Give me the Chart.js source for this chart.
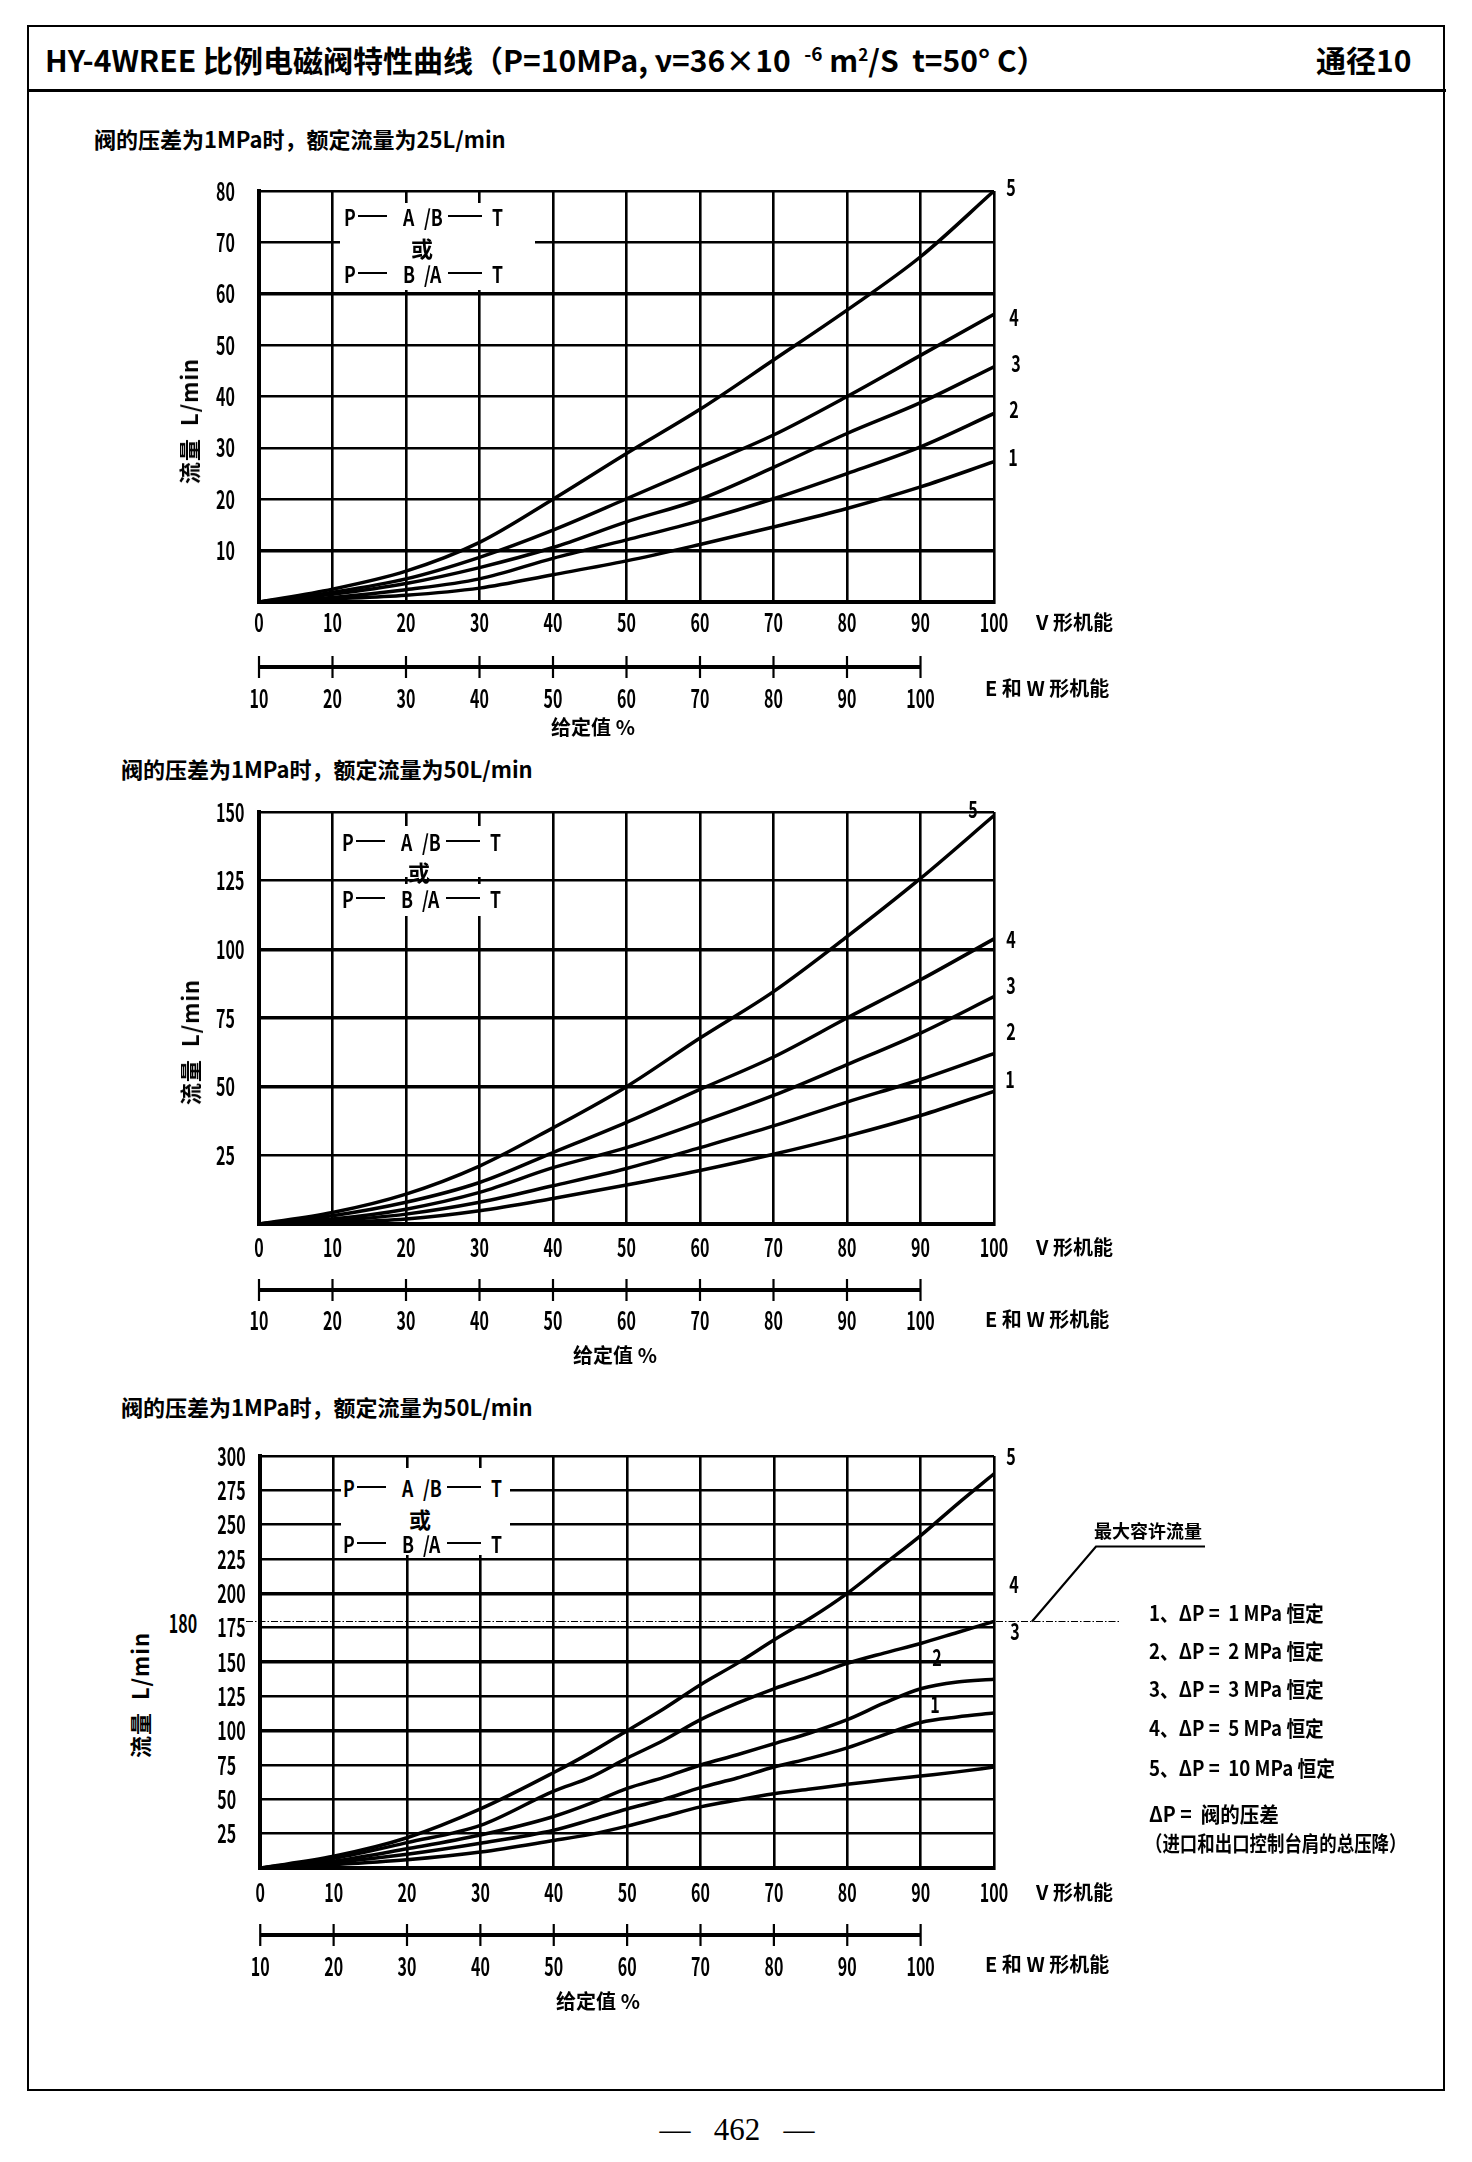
<!DOCTYPE html>
<html lang="zh-CN">
<head>
<meta charset="utf-8">
<title>HY-4WREE 比例电磁阀特性曲线</title>
<script src="https://cdn.jsdelivr.net/npm/chart.js@4.4.1/dist/chart.umd.min.js"></script>
<style>
html,body{margin:0;padding:0;background:#fff;}
#page{position:relative;width:1472px;height:2162px;overflow:hidden;background:#fff;}
.t{position:absolute;white-space:pre;color:#000;font-family:"Liberation Sans Narrow","Noto Sans CJK SC","Liberation Sans",sans-serif;font-weight:bold;line-height:1;}
canvas{position:absolute;}
.frame{position:absolute;left:27px;top:25px;width:1414px;height:2062px;border:2.5px solid #000;}
.sep{position:absolute;left:27px;top:89px;width:1419px;height:2.5px;background:#000;}
.lbox{position:absolute;background:#fff;}
.dash{position:absolute;height:2.4px;background:#000;}
</style>
</head>
<body>
<div id="page">
  <div class="frame"></div>
  <div class="sep"></div>
</div>
<script>
// ---------------- data ----------------
const xPct = [0, 10, 20, 30, 40, 50, 60, 70, 80, 90, 100];
const xPct3 = [0, 10, 20, 30, 40, 45, 50, 55, 60, 65, 70, 75, 80, 85, 90, 95, 100];

// chart 1 : rated flow 25 L/min
const c1Flow1 = [0, 0.6, 1.3, 2.7, 5.3, 8.0, 11.2, 14.6, 18.2, 22.4, 27.3];
const c1Flow2 = [0, 0.9, 2.4, 4.5, 8.5, 12.1, 15.8, 20.1, 25.0, 30.2, 36.7];
const c1Flow3 = [0, 1.5, 3.6, 6.7, 10.6, 15.6, 20.0, 26.2, 32.8, 38.8, 45.8];
const c1Flow4 = [0, 1.9, 4.5, 8.7, 14.0, 20.1, 26.3, 32.5, 40.0, 48.0, 56.0];
const c1Flow5 = [0, 2.5, 6.0, 11.6, 20.0, 28.9, 37.5, 47.1, 56.8, 67.2, 80.0];

// chart 2 : rated flow 50 L/min
const c2Flow1 = [0, 0.6, 1.8, 4.8, 9.3, 14.2, 19.5, 25.4, 32.0, 39.5, 48.3];
const c2Flow2 = [0, 1.2, 3.6, 7.9, 13.9, 20.2, 27.8, 35.7, 44.4, 52.6, 62.0];
const c2Flow3 = [0, 1.8, 5.4, 11.5, 20.5, 27.8, 37.0, 46.8, 58.0, 69.5, 82.8];
const c2Flow4 = [0, 3.0, 7.9, 15.1, 26.0, 37.0, 49.0, 60.8, 75.0, 88.9, 103.8];
const c2Flow5 = [0, 4.2, 10.9, 21.1, 35.0, 50.0, 67.7, 84.6, 104.6, 125.8, 148.7];

// chart 3 : rated flow 50 L/min (large range)
const c3Flow1 = [0, 2.5, 6, 11.6, 20, 24.5, 30.5, 37.5, 44.5, 49.5, 54, 57.5, 61, 64, 67, 70, 73.5];
const c3Flow2 = [0, 4, 10, 18, 27.5, 35, 43, 50, 58.5, 65.5, 73.5, 80, 87.5, 97, 106, 110, 112.8];
const c3Flow3 = [0, 5, 14, 24, 37.5, 47, 58, 66, 75, 82.5, 90.5, 98.5, 108, 120, 130.5, 135.5, 137.5];
const c3Flow4 = [0, 7, 18.5, 31, 56, 66, 80, 93, 108, 120, 130.5, 139.5, 149, 156.5, 163.5, 171.5, 179.5];
const c3Flow5 = [0, 8.5, 22, 43, 69.5, 84, 100, 116, 133.5, 149, 166, 182, 200, 221, 242, 265, 287];

// tick labels
const xTicks = [0, 10, 20, 30, 40, 50, 60, 70, 80, 90, 100];
const secTicks = [10, 20, 30, 40, 50, 60, 70, 80, 90, 100];
const yTicks1 = [0, 10, 20, 30, 40, 50, 60, 70, 80];
const yTicks2 = [0, 25, 50, 75, 100, 125, 150];
const yTicks3 = [0, 25, 50, 75, 100, 125, 150, 175, 200, 225, 250, 275, 300];
const thick1 = [10, 60];
const thick2 = [50, 75, 100];
const thick3 = [100, 150, 200];
const maxFlow3 = 180;
const curveNames = ['1', '2', '3', '4', '5'];

// ---------------- layout ----------------
const page = document.getElementById('page');
const FONT = '"Liberation Sans Narrow","Noto Sans CJK SC","Liberation Sans",sans-serif';
const CL = 200, CW = 1040, PAD_L = 16, Y_W = 43, PAD_R = 246;
const TICK_SX = 0.64;

const decorPlugin = {
  id: 'decor',
  afterDraw(chart, args, o) {
    const ctx = chart.ctx;
    const sx = chart.scales.x2;
    ctx.save();
    ctx.strokeStyle = '#000';
    const ly = o.secLineY - o.canvasTop;
    const a = sx.getPixelForValue(secTicks[0]);
    const b = sx.getPixelForValue(secTicks[secTicks.length - 1]);
    ctx.lineWidth = 4;
    ctx.beginPath(); ctx.moveTo(a, ly); ctx.lineTo(b, ly); ctx.stroke();
    ctx.lineWidth = 2.2;
    secTicks.forEach(v => {
      const p = sx.getPixelForValue(v);
      ctx.beginPath(); ctx.moveTo(p, ly - 11); ctx.lineTo(p, ly + 11); ctx.stroke();
    });
    if (o.maxFlow) {
      const y = Math.round(chart.scales.y.getPixelForValue(o.maxFlow)) + 0.5;
      ctx.lineWidth = 1.2;
      ctx.setLineDash([7, 2, 1.5, 2]);
      ctx.beginPath(); ctx.moveTo(246 - CL, y); ctx.lineTo(1120 - CL, y); ctx.stroke();
      ctx.setLineDash([]);
      ctx.lineWidth = 2.2;
      ctx.beginPath();
      ctx.moveTo(1032 - CL, y);
      ctx.lineTo(1096 - CL, y - 75);
      ctx.lineTo(1205 - CL, y - 75);
      ctx.stroke();
    }
    ctx.restore();
  }
};

function makeChart(xs, series, yTicks, thick, g) {
  const cv = document.createElement('canvas');
  const top = g.plotTop - 25;
  const height = g.plotBottom + 130 - top;
  cv.width = CW; cv.height = height;
  cv.style.left = CL + 'px'; cv.style.top = top + 'px';
  cv.style.width = CW + 'px'; cv.style.height = height + 'px';
  page.appendChild(cv);
  const ctx = cv.getContext('2d');
  // condensed lettering (the drawing uses a narrow CAD font)
  const origFill = ctx.fillText;
  ctx.fillText = function (text, x, y, mw) {
    this.save();
    this.translate(x, y);
    this.scale(TICK_SX, 1);
    origFill.call(this, text, 0, 0);
    this.restore();
  };
  const tickFont = { family: FONT, size: 25, weight: 'bold', lineHeight: 1 };
  return new Chart(ctx, {
    type: 'line',
    data: {
      datasets: series.map((s, i) => ({
        label: curveNames[i],
        data: xs.map((x, k) => ({ x: x, y: s[k] })),
        borderColor: '#000',
        borderWidth: 3.5,
        pointRadius: 0,
        fill: false,
        cubicInterpolationMode: 'monotone'
      }))
    },
    options: {
      responsive: false,
      animation: false,
      devicePixelRatio: 1,
      events: [],
      layout: { autoPadding: false, padding: { left: PAD_L, right: PAD_R, top: 25, bottom: 10 } },
      plugins: {
        legend: { display: false },
        tooltip: { enabled: false },
        decor: { secLineY: g.plotBottom + g.secLine, canvasTop: top, maxFlow: g.maxFlow || 0 }
      },
      scales: {
        x: {
          type: 'linear', position: 'bottom', min: 0, max: 100,
          afterBuildTicks: s => { s.ticks = xTicks.map(v => ({ value: v })); },
          afterFit: s => { s.height = 40; },
          ticks: { color: '#000', font: tickFont, padding: g.xPad, maxRotation: 0, autoSkip: false },
          grid: { color: '#000', lineWidth: 2.6, drawTicks: false, tickLength: 0 },
          border: { display: true, color: '#000', width: 4 }
        },
        x2: {
          type: 'linear', position: 'bottom', min: 10, max: 110,
          afterBuildTicks: s => { s.ticks = secTicks.map(v => ({ value: v })); },
          afterFit: s => { s.height = 80; },
          ticks: { color: '#000', font: tickFont, padding: g.x2Pad, maxRotation: 0, autoSkip: false },
          grid: { display: false, drawTicks: false, tickLength: 0 },
          border: { display: false }
        },
        y: {
          type: 'linear', position: 'left', min: 0, max: yTicks[yTicks.length - 1],
          afterBuildTicks: s => { s.ticks = yTicks.map(v => ({ value: v })); },
          afterFit: s => { s.width = Y_W; },
          ticks: {
            color: '#000', font: tickFont, padding: 0, crossAlign: 'far', autoSkip: false,
            callback: v => (v === 0 ? '' : String(v))
          },
          grid: {
            color: '#000', drawTicks: false, tickLength: 0,
            lineWidth: c => (thick.includes(c.tick.value) ? 3.6 : 2.4)
          },
          border: { display: true, color: '#000', width: 4 }
        }
      }
    },
    plugins: [decorPlugin]
  });
}

makeChart(xPct, [c1Flow1, c1Flow2, c1Flow3, c1Flow4, c1Flow5], yTicks1, thick1,
  { plotTop: 191, plotBottom: 602, xPad: 7.5, x2Pad: 43.5, secLine: 65 });
makeChart(xPct, [c2Flow1, c2Flow2, c2Flow3, c2Flow4, c2Flow5], yTicks2, thick2,
  { plotTop: 812, plotBottom: 1224, xPad: 10.5, x2Pad: 43.5, secLine: 66 });
makeChart(xPct3, [c3Flow1, c3Flow2, c3Flow3, c3Flow4, c3Flow5], yTicks3, thick3,
  { plotTop: 1456, plotBottom: 1868, xPad: 11.5, x2Pad: 45.5, secLine: 67, maxFlow: maxFlow3 });

// ---------------- text overlays ----------------
function box(x, y, w, h) {
  const d = document.createElement('div');
  d.className = 'lbox';
  d.style.left = x + 'px'; d.style.top = y + 'px';
  d.style.width = w + 'px'; d.style.height = h + 'px';
  page.appendChild(d);
}
function dash(x, y, w) {
  const d = document.createElement('div');
  d.className = 'dash';
  d.style.left = x + 'px'; d.style.top = (y - 1.2) + 'px'; d.style.width = w + 'px';
  page.appendChild(d);
}
function T(html, x, y, size, align, extra) {
  extra = extra || {};
  const d = document.createElement('div');
  d.className = 't';
  d.style.fontSize = size + 'px';
  d.style.left = x + 'px'; d.style.top = y + 'px';
  let tr;
  if (extra.rot) tr = 'translate(-50%,-50%) rotate(-90deg)';
  else if (align === 'c') tr = 'translate(-50%,-50%)';
  else tr = 'translate(0,-50%)';
  if (extra.sx) {
    tr += ' scaleX(' + extra.sx + ')';
    d.style.transformOrigin = align === 'c' ? '50% 50%' : '0 50%';
  }
  d.style.transform = tr;
  if (extra.style) d.style.cssText += extra.style;
  d.innerHTML = html;
  page.appendChild(d);
}
function pathRow(x0, y, a, b) {
  T('P', x0, y, 22, null, { sx: 0.8 });
  dash(x0 + 14, y, 29);
  T(a, x0 + 59, y, 22, null, { sx: 0.8 });
  T('/' + b, x0 + 80, y, 22, null, { sx: 0.8 });
  dash(x0 + 104, y, 34);
  T('T', x0 + 148, y, 22, null, { sx: 0.8 });
}

// title
T('HY-4WREE 比例电磁阀特性曲线（P=10MPa, ν=36×10  <span style="position:relative;top:-11px;font-size:19px">-6</span> m<span style="position:relative;top:-11px;font-size:17px">2</span>/S  t=50° C）', 45, 59, 30);
T('通径10', 1316, 59, 30);

// subtitles
T('阀的压差为1MPa时，额定流量为25L/min', 94, 138, 22);
T('阀的压差为1MPa时，额定流量为50L/min', 121, 768, 22);
T('阀的压差为1MPa时，额定流量为50L/min', 121, 1406, 22);

const DIG = { sx: 0.7 };

// chart 1 annotations
box(340, 203, 195, 87);
pathRow(344, 216, 'A', 'B'); T('或', 422, 247, 22, 'c'); pathRow(344, 273, 'B', 'A');
T('流量  L/min', 188, 421, 22, 'c', { rot: true, style: 'letter-spacing:1px' });
[[1011, 186, '5'], [1014, 316, '4'], [1016, 362, '3'], [1014, 408, '2'], [1013, 456, '1']]
  .forEach(a => T(a[2], a[0], a[1], 23, 'c', DIG));
T('V 形机能', 1036, 622, 20);
T('E 和 W 形机能', 985, 688, 20);
T('给定值 %', 593, 727, 20, 'c');

// chart 2 annotations
box(340, 826, 165, 51); box(340, 884, 165, 32);
pathRow(342, 841, 'A', 'B'); T('或', 419, 871, 22, 'c'); pathRow(342, 898, 'B', 'A');
T('流量  L/min', 189, 1042, 22, 'c', { rot: true, style: 'letter-spacing:1px' });
[[973, 808, '5'], [1011, 938, '4'], [1011, 984, '3'], [1011, 1030, '2'], [1010, 1078, '1']]
  .forEach(a => T(a[2], a[0], a[1], 23, 'c', DIG));
T('V 形机能', 1036, 1247, 20);
T('E 和 W 形机能', 985, 1319, 20);
T('给定值 %', 615, 1355, 20, 'c');

// chart 3 annotations
box(341, 1468, 169, 87);
pathRow(343, 1487, 'A', 'B'); T('或', 420, 1518, 22, 'c'); pathRow(343, 1543, 'B', 'A');
T('流量  L/min', 139, 1695, 22, 'c', { rot: true, style: 'letter-spacing:1px' });
T('180', 183, 1622, 25, 'c', { sx: 0.64 });
[[1011, 1455, '5'], [1014, 1583, '4'], [1015, 1630, '3'], [937, 1656, '2'], [935, 1703, '1']]
  .forEach(a => T(a[2], a[0], a[1], 23, 'c', DIG));
T('最大容许流量', 1148, 1530, 18, 'c');
T('1、ΔP =  1 MPa 恒定', 1149, 1612, 21, null, { sx: 0.89 });
T('2、ΔP =  2 MPa 恒定', 1149, 1650, 21, null, { sx: 0.89 });
T('3、ΔP =  3 MPa 恒定', 1149, 1688, 21, null, { sx: 0.89 });
T('4、ΔP =  5 MPa 恒定', 1149, 1727, 21, null, { sx: 0.89 });
T('5、ΔP =  10 MPa 恒定', 1149, 1767, 21, null, { sx: 0.89 });
T('ΔP =  阀的压差', 1149, 1813, 21, null, { sx: 0.93 });
T('（进口和出口控制台肩的总压降）', 1145, 1842, 21, null, { sx: 0.83 });
T('V 形机能', 1036, 1892, 20);
T('E 和 W 形机能', 985, 1964, 20);
T('给定值 %', 598, 2001, 20, 'c');

// page number
T('—   462   —', 737, 2129, 31, 'c', { style: 'font-family:"Liberation Serif","DejaVu Serif",serif;font-weight:normal;' });
</script>
</body>
</html>
